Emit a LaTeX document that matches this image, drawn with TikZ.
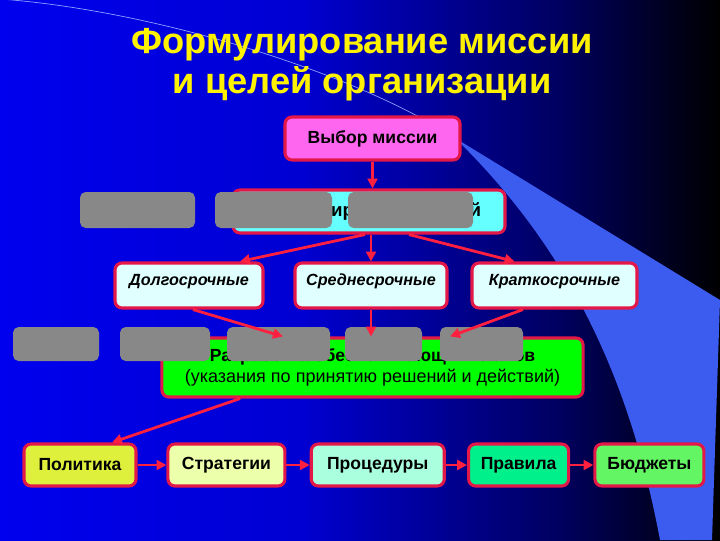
\documentclass[tikz,border=0pt]{standalone}
\usepackage{fontspec}
\setmainfont{Liberation Sans}
\usetikzlibrary{positioning,arrows.meta}

\definecolor{boxred}{RGB}{228,24,72}
\definecolor{linkred}{RGB}{255,32,64}
\definecolor{missionpink}{RGB}{255,102,240}
\definecolor{goalcyan}{RGB}{102,255,255}
\definecolor{termcyan}{RGB}{224,255,255}
\definecolor{plangreen}{RGB}{0,255,0}
\definecolor{maskgray}{RGB}{136,136,136}
\definecolor{bandblue}{RGB}{60,92,240}
\definecolor{arcblue}{RGB}{140,160,255}
\definecolor{bgA}{RGB}{0,0,238}
\definecolor{bgB}{RGB}{0,0,210}
\definecolor{bgC}{RGB}{0,0,95}
\definecolor{politicsfill}{RGB}{222,240,60}
\definecolor{strategyfill}{RGB}{236,255,170}
\definecolor{procfill}{RGB}{170,255,222}
\definecolor{rulesfill}{RGB}{0,240,140}
\definecolor{budgetfill}{RGB}{100,245,100}

\tikzset{
  card/.style={draw=boxred,line width=2.2pt,rounded corners=5pt,inner sep=0pt,align=center,
    font=\bfseries\fontsize{12.5}{15}\selectfont},
  term/.style={card,fill=termcyan,minimum width=#1,text height=0.55cm,text depth=0.575cm,
    font=\bfseries\itshape\fontsize{11.5}{14}\selectfont},
  chain/.style={card,minimum height=1.05cm},
  mask/.style={fill=maskgray,rounded corners=4pt},
  link/.style={draw=linkred,line width=2pt,-{Triangle[length=7pt,width=7pt]}}
}

\begin{document}
\begin{tikzpicture}[x=0.025cm,y=-0.025cm]
\useasboundingbox (0,0) rectangle (720,540);
% background
\shade[left color=bgA,right color=bgB] (0,0) rectangle (301,540);
\shade[left color=bgB,right color=bgC] (300,0) rectangle (561,540);
\shade[left color=bgC,right color=black] (560,0) rectangle (720,540);
\fill[bandblue] (455,138) -- (720,300) -- (712,540) -- (660,540)
  .. controls (630,380) and (570,250) .. (455,138) -- cycle;
\draw[arcblue,line width=0.5pt] (0,-1) .. controls (150,10) and (350,70) .. (455,138);

\node[text=yellow,align=center,font=\bfseries\fontsize{25.8}{28.5}\selectfont] (head) at (362,65)
  {Формулирование миссии\\и целей организации};

\node[card,fill=missionpink,minimum width=4.375cm,minimum height=1.075cm] (mission) at (372.5,138.5) {Выбор миссии};
\node[card,fill=goalcyan,minimum width=6.8cm,minimum height=1.075cm,
  font=\bfseries\fontsize{13.3}{15}\selectfont] (goals) at (369,211.5) {Формулирование целей};

\node[term=3.7cm] (long) at (189,285.5) {Долгосрочные};
\node[term=3.8cm] (mid) at (371,285.5) {Среднесрочные};
\node[term=4.125cm] (short) at (554.5,285.5) {Краткосрочные};

\node[card,fill=plangreen,minimum width=10.525cm,minimum height=1.475cm] (plans) at (372.5,367.5)
  {Разработка обеспечивающих планов\\{\mdseries\fontsize{12.8}{15}\selectfont(указания по принятию решений и действий)}};

\node[chain,fill=politicsfill,minimum width=2.8cm] (pol) at (80,465) {Политика};
\node[chain,fill=strategyfill,minimum width=2.925cm,right=0.72cm of pol] (str) {Стратегии};
\node[chain,fill=procfill,minimum width=3.325cm,right=0.58cm of str] (proc) {Процедуры};
\node[chain,fill=rulesfill,minimum width=2.5cm,right=0.53cm of proc] (rules) {Правила};
\node[chain,fill=budgetfill,minimum width=2.725cm,right=0.58cm of rules] (budget) {Бюджеты};

% grey patches
\foreach \xa/\xb in {80/195,215/332,348/473}
  \fill[mask] (\xa,192) rectangle (\xb,228);
\foreach \xa/\xb in {13/99,120/210,227/330,345/422,440/523}
  \fill[mask] (\xa,327) rectangle (\xb,361);

% arrows
\draw[link] (mission.south) -- (mission.south |- goals.north);
\draw[link] ([xshift=-0.1cm]goals.south) -- ([xshift=1.275cm]long.north);
\draw[link] (mid.north |- goals.south) -- (mid.north);
\draw[link] ([xshift=1cm]goals.south) -- ([xshift=-1cm]short.north);
\draw[link] ([xshift=0.1cm]long.south) -- ([xshift=-2.24cm]plans.north);
\draw[link] (mid.south) -- (mid.south |- plans.north);
\draw[link] ([xshift=-0.79cm]short.south) -- ([xshift=1.94cm]plans.north);
\draw[link] ([xshift=-3.31cm]plans.south) -- ([xshift=0.8cm]pol.north);
\foreach \a/\b in {pol/str,str/proc,proc/rules,rules/budget}
  \draw[link] (\a) -- (\b);
\end{tikzpicture}
\end{document}
